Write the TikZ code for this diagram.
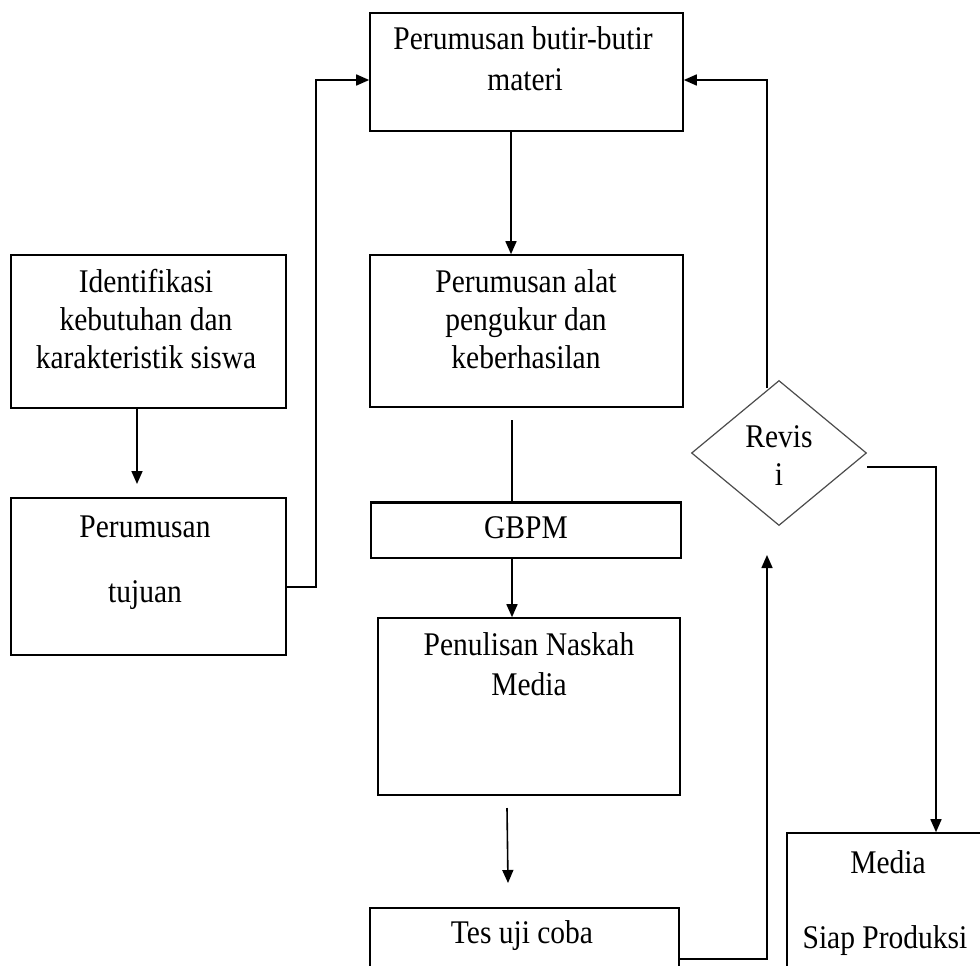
\documentclass[tikz,border=0pt]{standalone}
\usepackage{fontspec}
\setmainfont{Liberation Serif}
\usetikzlibrary{arrows.meta,shapes.geometric}
\newcommand\vst[1]{\scalebox{1}[1.12]{#1}}
\begin{document}
\begin{tikzpicture}[x=1pt,y=-1pt,
  box/.style={draw, line width=1.6pt, inner sep=0pt, rectangle},
  txt/.style={font=\fontsize{29.5}{38}\selectfont, inner sep=0pt, anchor=base},
  conn/.style={line width=1.6pt},
  arr/.style={conn, -{Triangle[length=13pt,width=11pt]}},
]
\useasboundingbox (0,0) rectangle (980,966);
\clip (0,0) rectangle (980,966);
\fill[white] (0,0) rectangle (980,966);

% boxes
\node[box, minimum width=313pt, minimum height=118pt] (b1) at (526.5,72) {};
\node[box, minimum width=275pt, minimum height=153pt] (ident) at (148.5,331.5) {};
\node[box, minimum width=275pt, minimum height=157pt] (tujuan) at (148.5,576.5) {};
\node[box, minimum width=313pt, minimum height=152pt] (b2) at (526.5,331) {};
\node[box, minimum width=310pt, minimum height=55pt] (gbpm) at (526,530.5) {};
\node[box, minimum width=302pt, minimum height=177pt] (pen) at (529,706.5) {};
\node[box, minimum width=309pt, minimum height=92pt] (tes) at (524.5,954) {};
\node[box, minimum width=223pt, minimum height=177pt] (media) at (898.5,921.5) {};
\node[draw=black!70, line width=1.2pt, diamond, minimum width=175pt, minimum height=145pt, inner sep=0pt] (dia) at (779,453) {};
\draw[line width=3pt] (gbpm.north west) -- (gbpm.north east);

% texts
\node[txt] (t1a) at (523,50) {\vst{Perumusan butir-butir}};
\node[txt] (t1b) at (525,90) {\vst{materi}};
\node[txt] (t2a) at (146,292) {\vst{Identifikasi}};
\node[txt] (t2b) at (146,330) {\vst{kebutuhan dan}};
\node[txt] (t2c) at (146,368) {\vst{karakteristik siswa}};
\node[txt] (t3a) at (145,537) {\vst{Perumusan}};
\node[txt] (t3b) at (145,602) {\vst{tujuan}};
\node[txt] (t4a) at (526,292) {\vst{Perumusan alat}};
\node[txt] (t4b) at (526,330) {\vst{pengukur dan}};
\node[txt] (t4c) at (526,368) {\vst{keberhasilan}};
\node[txt] (t5) at (526,538) {\vst{GBPM}};
\node[txt] (t6a) at (529,655) {\vst{Penulisan Naskah}};
\node[txt] (t6b) at (529,695) {\vst{Media}};
\node[txt] (t7) at (522,943) {\vst{Tes uji coba}};
\node[txt] (t8a) at (888,873) {\vst{Media}};
\node[txt] (t8b) at (885,948) {\vst{Siap Produksi}};
\node[txt] (t9a) at (779,447) {\vst{Revis}};
\node[txt] (t9b) at (779,485) {\vst{i}};

% coordinates
\coordinate (c1) at (137,484);
\coordinate (jL) at (316,80);
\coordinate (xs) at (511,0);
\coordinate (g0) at (512,420);
\coordinate (p0) at (507,808);
\coordinate (p1) at (508,883);
\coordinate (r0) at (767,555);
\coordinate (r1) at (767,388);
\coordinate (m0) at (936,0);

% connectors
\draw[arr] (c1 |- ident.south) -- (c1);
\draw[arr] ([yshift=-10.5pt]tujuan.east) -| (jL) -- (jL -| b1.west);
\draw[arr] (xs |- b1.south) -- (xs |- b2.north);
\draw[conn] (g0) -- (g0 |- gbpm.north);
\draw[arr] (g0 |- gbpm.south) -- (g0 |- pen.north);
\draw[arr] (p0) -- (p1);
\draw[arr] ([yshift=-5pt]tes.east) -| (r0);
\draw[arr] (r1) |- ([yshift=-8pt]b1.east);
\draw[arr] ([yshift=-14pt]dia.east) -| (m0 |- media.north);
\end{tikzpicture}
\end{document}
